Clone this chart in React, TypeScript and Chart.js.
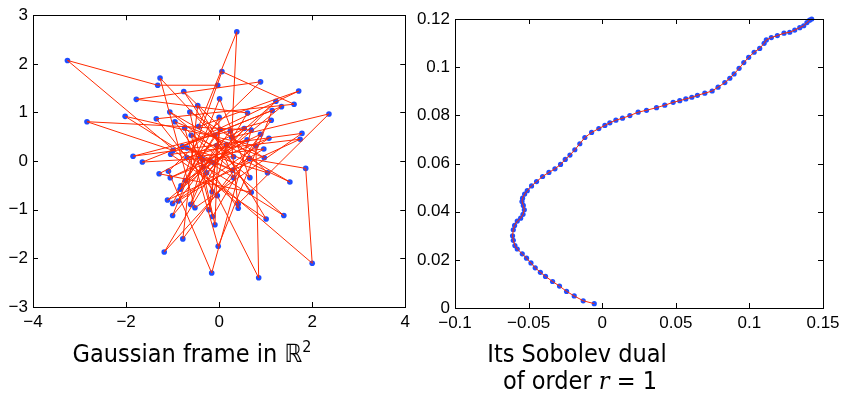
import React, { useEffect, useRef } from "react";
import { Chart, registerables } from "chart.js";

Chart.register(...registerables);

// ---- Data: left panel (Gaussian frame in R^2), points in drawing order ----
const frameX = [-0.03,-1.32,-3.26,0.41,2.36,0.27,0.38,-0.44,1.71,-0.99,-2.84,0.69,-0.16,-1.09,0.89,-1.78,0.61,-1.18,0.65,1.86,2.00,-0.27,1.22,-0.82,0.06,1.61,-1.35,-0.04,0.85,0.79,-2.02,1.39,-0.74,-0.02,1.14,-1.65,0.31,-1.27,-0.52,1.78,-1.85,1.12,-0.78,-0.46,1.01,-1.04,1.74,-1.11,1.34,-0.79,1.04,-0.76,0.69,-1.29,0.54,-1.00,0.01,0.66,-1.06,1.52,-0.60,-0.14,0.89,-1.05,1.07,-1.00,0.00,-0.09,-0.63,0.97,-0.95,0.41,0.24,-0.88,0.96,-0.69,0.60,-0.72,0.02,-0.22,0.16,-0.84,-0.09,0.31,-0.69,0.29,-0.40,-0.15,-0.05,-0.34,-0.19,-0.61,-0.35,-0.11];
const frameY = [1.56,1.56,2.07,-0.88,0.97,0.49,2.66,0.71,1.44,0.22,0.81,0.64,-2.30,-0.21,1.63,1.27,0.99,-1.87,0.05,-0.15,-2.10,-0.24,1.23,-0.51,1.84,1.17,0.87,-0.71,-2.40,0.31,0.92,-1.12,0.68,-1.75,1.04,-0.02,0.09,1.71,-0.96,0.57,0.10,0.84,-1.60,1.14,-1.19,0.14,0.45,-0.80,1.12,0.30,-0.24,1.43,-0.64,-0.26,0.67,-1.12,1.28,-0.34,1.01,-0.43,0.53,-1.14,0.55,-0.34,0.47,-0.87,0.90,-1.31,1.01,0.07,0.81,-0.97,0.62,-0.82,0.25,0.07,0.44,-0.40,0.65,-1.00,0.34,-0.58,0.53,-0.34,0.27,-0.19,0.08,-0.63,0.32,-0.12,0.00,-0.89,0.03,-0.04];

// ---- Data: right panel (Sobolev dual of order r = 1) ----
const dualX = [-0.0054,-0.0129,-0.019,-0.0242,-0.029,-0.0337,-0.0385,-0.042,-0.0455,-0.0484,-0.0514,-0.0543,-0.0577,-0.0593,-0.0604,-0.0609,-0.0604,-0.0595,-0.0577,-0.0554,-0.0538,-0.0529,-0.0536,-0.0545,-0.0541,-0.0527,-0.0509,-0.048,-0.0446,-0.0405,-0.0362,-0.0321,-0.0283,-0.0251,-0.0219,-0.0186,-0.0152,-0.0118,-0.0072,-0.0023,0.0018,0.0052,0.0093,0.0138,0.0188,0.0244,0.0301,0.0369,0.0425,0.0482,0.0527,0.0568,0.0609,0.0647,0.0697,0.0747,0.0787,0.0833,0.0867,0.0896,0.093,0.0962,0.0995,0.1032,0.107,0.11,0.1115,0.1149,0.119,0.1235,0.1274,0.1308,0.1342,0.1369,0.1391,0.1409,0.1423];
const dualY = [0.0018,0.003,0.005,0.0069,0.0091,0.011,0.0131,0.0148,0.0167,0.0187,0.0207,0.0225,0.0245,0.0259,0.0281,0.03,0.0325,0.0343,0.0361,0.0373,0.0389,0.0408,0.0426,0.0442,0.0456,0.0473,0.0487,0.0507,0.0525,0.0546,0.0563,0.0578,0.0596,0.0617,0.0635,0.0657,0.0682,0.0708,0.0729,0.0745,0.0758,0.0769,0.078,0.0788,0.0799,0.0813,0.0821,0.0832,0.0842,0.0854,0.0861,0.0868,0.0875,0.0883,0.0892,0.0901,0.0917,0.0936,0.0954,0.0972,0.0995,0.1019,0.1041,0.1062,0.1078,0.1099,0.1113,0.1123,0.1131,0.1141,0.1145,0.1154,0.1164,0.1172,0.1185,0.1195,0.12];

// ---- Axis ticks ----
const leftXTicks = [-4, -2, 0, 2, 4];
const leftYTicks = [-3, -2, -1, 0, 1, 2, 3];
const rightXTicks = [-0.1, -0.05, 0, 0.05, 0.1, 0.15];
const rightYTicks = [0, 0.02, 0.04, 0.06, 0.08, 0.1, 0.12];

const leftTitle = "Gaussian frame in ";
const rightTitle1 = "Its Sobolev dual";

const RED = "#ff2a00";
const BLUE = "#1f4dff";
const TICK_FONT = { family: "'Liberation Sans', Arial, Helvetica, sans-serif", size: 17 };

const fmt = (v: number) => String(Number(v.toFixed(2))).replace("-", "\u2212");

const boxTicks = {
  id: "boxTicks",
  afterDraw(chart: any) {
    const { ctx, chartArea: a, scales } = chart;
    const L = 5;
    ctx.save();
    ctx.strokeStyle = "#000";
    ctx.lineWidth = 1;
    ctx.beginPath();
    scales.x.ticks.forEach((t: any) => {
      const px = Math.round(scales.x.getPixelForValue(t.value)) + 0.5;
      ctx.moveTo(px, a.bottom); ctx.lineTo(px, a.bottom - L);
      ctx.moveTo(px, a.top); ctx.lineTo(px, a.top + L);
    });
    scales.y.ticks.forEach((t: any) => {
      const py = Math.round(scales.y.getPixelForValue(t.value)) + 0.5;
      ctx.moveTo(a.left, py); ctx.lineTo(a.left + L, py);
      ctx.moveTo(a.right, py); ctx.lineTo(a.right - L, py);
    });
    ctx.stroke();
    ctx.strokeRect(Math.round(a.left) + 0.5, Math.round(a.top) + 0.5, Math.round(a.right - a.left), Math.round(a.bottom - a.top));
    ctx.restore();
  },
};

function makeConfig(xs: number[], ys: number[], xT: number[], yT: number[], pad: any, yW: number, xH: number, r: number) {
  const pts = xs.map((x, i) => ({ x, y: ys[i] }));
  const axis = (ticks: number[], afterFit: (s: any) => void, tickPad: number) => ({
    type: "linear",
    min: ticks[0],
    max: ticks[ticks.length - 1],
    afterBuildTicks: (s: any) => { s.ticks = ticks.map((v) => ({ value: v })); },
    afterFit,
    grid: { display: false, drawTicks: false },
    border: { display: false },
    ticks: { font: TICK_FONT, color: "#000", padding: tickPad, autoSkip: false, maxRotation: 0, callback: (v: any) => fmt(Number(v)) },
  });
  return {
    type: "scatter",
    data: {
      datasets: [
        { data: pts, showLine: true, borderColor: RED, borderWidth: 1, pointRadius: 0, tension: 0, clip: false },
        { data: pts, showLine: false, pointRadius: r, pointBackgroundColor: BLUE, pointBorderWidth: 0, backgroundColor: BLUE, clip: false },
      ],
    },
    options: {
      animation: false,
      responsive: false,
      devicePixelRatio: 1,
      layout: { padding: pad },
      plugins: { legend: { display: false }, tooltip: { enabled: false } },
      events: [],
      scales: {
        x: axis(xT, (s: any) => { s.height = xH; }, 5),
        y: axis(yT, (s: any) => { s.width = yW; }, 5),
      },
    },
    plugins: [boxTicks],
  };
}

export default function App() {
  const leftRef = useRef<HTMLCanvasElement>(null);
  const rightRef = useRef<HTMLCanvasElement>(null);

  useEffect(() => {
    const c1 = new Chart(leftRef.current as any, makeConfig(frameX, frameY, leftXTicks, leftYTicks, { left: 0, top: 15, right: 9, bottom: 0 }, 33, 88, 2.8) as any);
    const c2 = new Chart(rightRef.current as any, makeConfig(dualX, dualY, rightXTicks, rightYTicks, { left: 0, top: 19, right: 22, bottom: 0 }, 40, 87, 2.6) as any);
    return () => { c1.destroy(); c2.destroy(); };
  }, []);

  const titleStyle: React.CSSProperties = {
    position: "absolute",
    transform: "translateX(-50%)",
    whiteSpace: "nowrap",
    fontFamily: "'DejaVu Sans Condensed', 'DejaVu Sans', sans-serif",
    fontStretch: "condensed",
    fontSize: 25,
    lineHeight: "28px",
    color: "#000",
  };

  return (
    <div style={{ position: "fixed", left: 0, top: 0, width: 845, height: 395, background: "#fff", overflow: "hidden" }}>
      <canvas ref={leftRef} width={415} height={395} style={{ position: "absolute", left: 0, top: 0, width: 415, height: 395 }} />
      <canvas ref={rightRef} width={430} height={395} style={{ position: "absolute", left: 415, top: 0, width: 430, height: 395 }} />
      <div style={{ ...titleStyle, left: 192, top: 340 }}>
        {leftTitle}{"\u211D"}<sup style={{ fontSize: 16, verticalAlign: "10px", lineHeight: 0 }}>2</sup>
      </div>
      <div style={{ ...titleStyle, left: 577, top: 340 }}>{rightTitle1}</div>
      <div style={{ ...titleStyle, left: 580, top: 367 }}>
        of order <span style={{ fontFamily: "'DejaVu Serif', serif", fontStyle: "italic" }}>r</span> = 1
      </div>
    </div>
  );
}
